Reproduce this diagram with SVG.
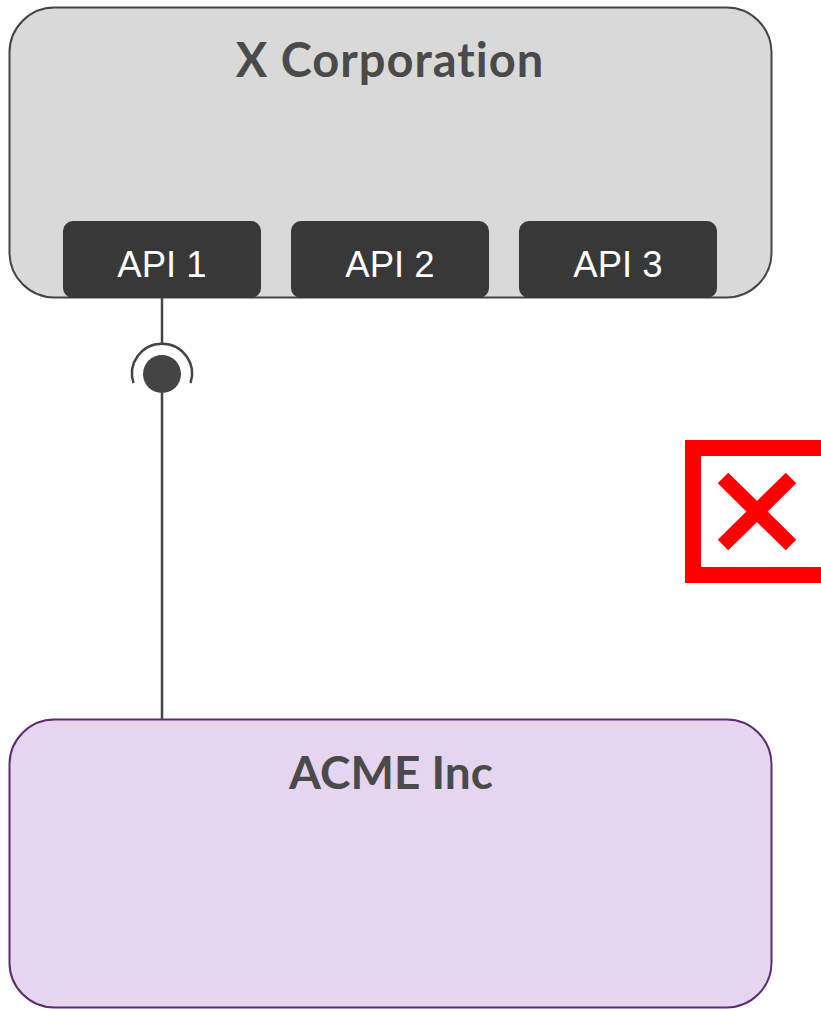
<svg xmlns="http://www.w3.org/2000/svg" width="821" height="1009" viewBox="0 0 821 1009">
<style>
.title{font-family:Lato,"Open Sans",sans-serif;font-weight:bold;font-size:46px;fill:#4a4a4a;text-anchor:middle;font-variant-ligatures:none}
.api{fill:#383838}
.apitxt{font-family:"Liberation Sans",Arial,sans-serif;font-size:36.5px;fill:#ffffff;text-anchor:middle}
.conn{stroke:#444;stroke-width:2.5;fill:none}
</style>
<rect width="821" height="1009" fill="#ffffff"/>
<g id="xcorp">
<rect x="9.5" y="7.5" width="762" height="290" rx="45" fill="#d9d9d9" stroke="#444" stroke-width="2"/>
<text class="title" x="390" y="77" style="font-size:47px;letter-spacing:1px">X Corporation</text>
</g>
<g id="api1">
<rect class="api" x="63" y="221" width="198" height="77" rx="10"/>
<text class="apitxt" x="162" y="277">API 1</text>
</g>
<g id="api2">
<rect class="api" x="291" y="221" width="198" height="77" rx="10"/>
<text class="apitxt" x="390" y="277">API 2</text>
</g>
<g id="api3">
<rect class="api" x="519" y="221" width="198" height="77" rx="10"/>
<text class="apitxt" x="618" y="277">API 3</text>
</g>
<g id="acme">
<rect x="9.5" y="719.5" width="762" height="288" rx="45" fill="#e5d5ee" stroke="#5b2d73" stroke-width="2"/>
<text class="title" x="391" y="789">ACME Inc</text>
</g>
<g id="connectors">
<line class="conn" x1="162" y1="298" x2="162" y2="345"/>
<path class="conn" d="M 133.5 383 A 30 30 0 1 1 190.5 383"/>
<circle cx="162" cy="374" r="19" fill="#444"/>
<line class="conn" x1="162" y1="393" x2="162" y2="719"/>
</g>
<g id="blocked">
<rect x="693" y="448" width="136" height="127" fill="#ffffff" stroke="#ff0000" stroke-width="16"/>
<line x1="723" y1="478" x2="791" y2="545" stroke="#ff0000" stroke-width="15"/>
<line x1="791" y1="478" x2="723" y2="545" stroke="#ff0000" stroke-width="15"/>
</g>
</svg>
